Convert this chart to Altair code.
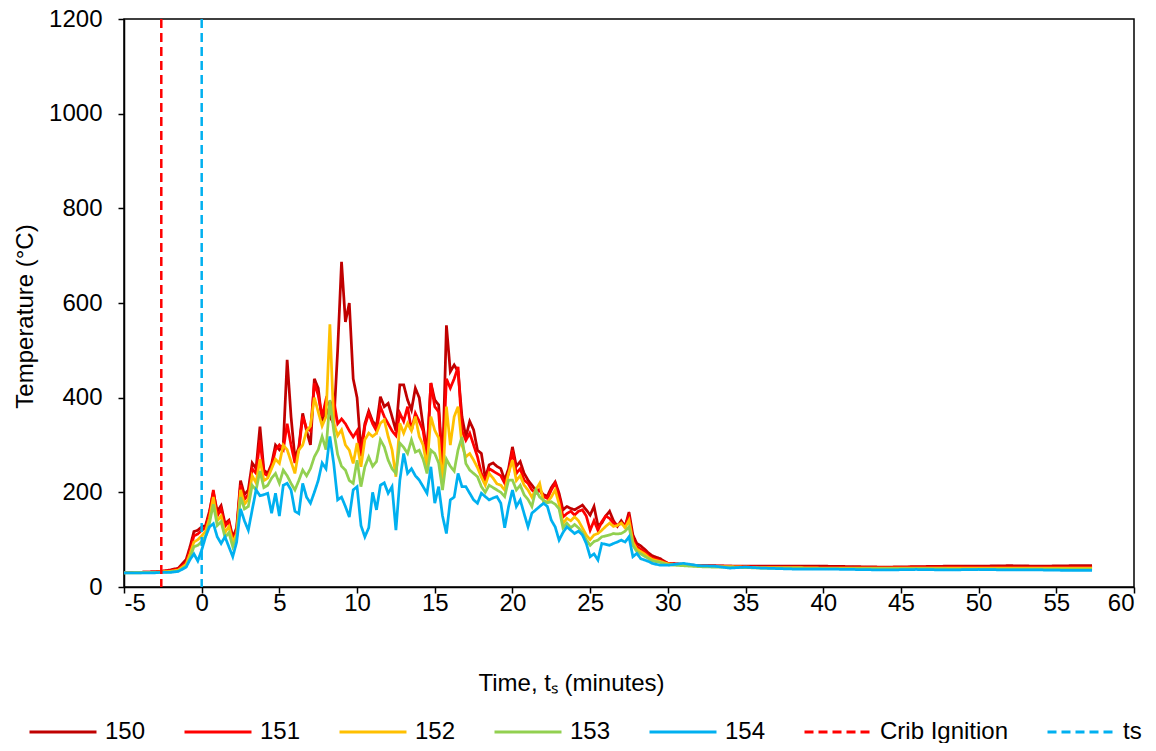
import altair as alt
import pandas as pd

# ---- time grid (minutes) ----
T_PRE = [-5.0, -4.0, -3.0, -2.6, -2.0, -1.5]
T_MID = [-1.0 + 0.25 * i for i in range(120)]
T_POST = [29.0, 29.5, 30.0, 31.0, 32.0, 33.0, 34.0, 35.0, 36.0, 38.0,
          40.0, 42.0, 44.0, 46.0, 48.0, 50.0, 52.0, 54.0, 56.0, 57.3]
TIME = T_PRE + T_MID + T_POST

# ---- temperatures (deg C) ----
S150 = [31, 31, 32, 33, 36, 40,
        58, 85, 117, 120,
        127, 130, 160, 200,
        160, 172, 134, 141,
        105, 125, 225, 195,
        205, 262, 250, 339,
        247, 240, 260, 300,
        290, 300, 480, 360,
        272, 295, 367, 330,
        300, 440, 420, 350,
        377, 360, 345, 500,
        687, 560, 600, 440,
        400, 289, 345, 372,
        350, 340, 402, 381,
        388, 360, 330, 427,
        427, 395, 374, 420,
        400, 340, 283, 431,
        395, 385, 254, 553,
        455, 469, 455, 360,
        317, 350, 332, 289,
        282, 230, 258, 262,
        255, 250, 226, 250,
        296, 255, 265, 240,
        226, 215, 205, 205,
        195, 192, 210, 222,
        198, 163, 170, 166,
        163, 168, 173, 163,
        152, 170, 130, 135,
        150, 160, 140, 128,
        140, 128, 158, 110,
        92, 87, 80, 72,
        66, 60, 50, 48, 45, 45, 44, 44, 44, 44, 44, 43, 42, 43, 44, 44, 45, 44, 45, 45]

S151 = [31, 31, 32, 33, 35, 38,
        52, 78, 108, 112,
        120, 125, 155, 205,
        150, 165, 128, 138,
        100, 120, 215, 185,
        195, 250, 240, 310,
        240, 235, 255, 290,
        300, 290, 345, 300,
        262, 290, 360, 335,
        330, 430, 405, 360,
        396, 380, 395, 345,
        355, 345, 330, 317,
        330, 276, 340, 367,
        345, 330, 381, 360,
        345, 330, 320, 367,
        350, 381, 330, 367,
        350, 330, 276, 431,
        381, 370, 250, 440,
        420, 440, 465, 330,
        310, 325, 300, 275,
        240, 225, 250, 245,
        240, 235, 219, 240,
        289, 240, 250, 226,
        219, 205, 198, 205,
        191, 187, 205, 219,
        191, 148, 155, 160,
        152, 160, 163, 150,
        120, 140, 120, 138,
        150, 145, 135, 130,
        135, 130, 150, 100,
        85, 80, 74, 66,
        61, 56, 50, 47, 45, 44, 44, 43, 42, 42, 41, 41, 41, 42, 42, 42, 42, 42, 42, 42]

S152 = [30, 31, 31, 32, 33, 36,
        48, 70, 95, 100,
        108, 118, 145, 190,
        140, 150, 115, 128,
        95, 112, 205, 175,
        185, 235, 220, 270,
        225, 230, 250, 270,
        261, 300, 290, 265,
        240, 289, 300, 330,
        340, 400, 370, 340,
        360, 555, 346, 320,
        332, 300, 289, 261,
        304, 254, 311, 325,
        318, 325, 346, 353,
        318, 290, 233, 346,
        325, 346, 330, 360,
        318, 300, 254, 360,
        331, 315, 212, 381,
        300, 360, 381, 300,
        275, 282, 268, 252,
        232, 215, 240, 230,
        218, 215, 205, 240,
        268, 225, 235, 215,
        205, 190, 205, 219,
        180, 180, 190, 205,
        175, 134, 145, 140,
        148, 140, 125, 110,
        100, 110, 113, 120,
        128, 135, 128, 130,
        135, 125, 141, 95,
        80, 75, 70, 63,
        58, 54, 49, 46, 44, 43, 43, 42, 41, 41, 40, 40, 40, 40, 40, 40, 40, 40, 40, 40]

S153 = [30, 30, 31, 31, 32, 34,
        44, 62, 85, 88,
        96, 108, 135, 175,
        130, 138, 105, 115,
        85, 105, 190, 165,
        170, 215, 205, 245,
        210, 215, 230, 240,
        219, 247, 235, 219,
        205, 225, 247, 235,
        250, 275, 290, 318,
        290, 395, 330, 280,
        255, 247, 225, 219,
        268, 212, 254, 275,
        255, 265, 311, 296,
        268, 250, 240, 304,
        295, 282, 311, 285,
        289, 270, 240, 289,
        282, 262, 205, 270,
        255, 245, 290, 317,
        261, 247, 240, 233,
        212, 200, 215, 210,
        205, 200, 191, 226,
        226, 205, 215, 195,
        185, 170, 205, 190,
        183, 178, 180, 175,
        165, 125, 135, 125,
        132, 125, 115, 100,
        88, 96, 99, 106,
        108, 110, 113, 112,
        113, 118, 127, 88,
        75, 70, 65, 60,
        55, 52, 47, 45, 43, 42, 42, 41, 40, 40, 39, 39, 39, 39, 38, 38, 38, 38, 38, 38]

S154 = [30, 30, 30, 31, 31, 33,
        42, 58, 70, 55,
        78, 106, 127, 134,
        106, 92, 106, 85,
        64, 95, 165, 140,
        120, 163, 205, 193,
        195, 198, 156, 198,
        150, 215, 219, 205,
        160, 155, 219, 190,
        177, 200, 225, 262,
        250, 318, 260, 184,
        190, 170, 148, 205,
        212, 130, 106, 125,
        200, 163, 215, 220,
        198, 212, 120, 225,
        282, 240, 250, 235,
        226, 212, 198, 254,
        177, 212, 150, 113,
        184, 190, 240, 212,
        212, 198, 184, 177,
        198, 191, 184, 188,
        191, 177, 125, 170,
        205, 170, 184, 155,
        127, 156, 163, 170,
        177, 170, 141, 127,
        99, 115, 127, 120,
        113, 118, 110, 92,
        64, 70, 57, 92,
        90, 88, 92, 95,
        99, 95, 106, 64,
        71, 60, 57, 54,
        50, 46, 46, 50, 45, 44, 40, 42, 40, 38, 38, 37, 36, 37, 36, 37, 36, 36, 35, 35]

SERIES = ["150", "151", "152", "153", "154"]
SERIES_COLORS = ["#C00000", "#FF0000", "#FFC000", "#92D050", "#00B0F0"]
EVENTS = ["Crib Ignition", "ts"]
EVENT_TIMES = [-2.6, 0.0]
EVENT_COLORS = ["#FF0000", "#00B0F0"]
X_TICKS = [-5, 0, 5, 10, 15, 20, 25, 30, 35, 40, 45, 50, 55, 60]
Y_TICKS = [0, 200, 400, 600, 800, 1000, 1200]

rows = []
for name, vals in zip(SERIES, [S150, S151, S152, S153, S154]):
    assert len(vals) == len(TIME), (name, len(vals), len(TIME))
    for t, v in zip(TIME, vals):
        rows.append({"t": t, "T": v, "series": name})
df = pd.DataFrame(rows)
ev = pd.DataFrame({"t": EVENT_TIMES, "series": EVENTS})

FONT = "Liberation Sans"
FS = 24
DOMAIN = SERIES + EVENTS
color_scale = alt.Scale(domain=DOMAIN, range=SERIES_COLORS + EVENT_COLORS)
dash_scale = alt.Scale(domain=DOMAIN, range=[[1, 0]] * 5 + [[9, 5], [9, 5]])

legend = alt.Legend(
    title=None, orient="none", legendX=-96, legendY=678,
    direction="horizontal", columns=7, symbolType="stroke",
    symbolSize=4489, symbolStrokeWidth=3, labelFontSize=FS, labelFont=FONT,
    labelColor="black", columnPadding=32, labelOffset=7, padding=0,
)

x_enc = alt.X("t:Q", scale=alt.Scale(domain=[-5, 60], nice=False, zero=False),
              axis=alt.Axis(values=X_TICKS, labelExpr="'' + datum.value",
                            labelPadding=-2,
                            title="Time, tₛ (minutes)",
                            titleX=447, titleY=96, titleBaseline="middle",
                            titleAnchor="start", titleAlign="center"))
y_enc = alt.Y("T:Q", scale=alt.Scale(domain=[0, 1200], nice=False),
              axis=alt.Axis(values=Y_TICKS, labelExpr="'' + datum.value",
                            title="Temperature (°C)",
                            titleX=-99, titleY=297, titleAngle=-90,
                            titleBaseline="middle", titleAlign="center",
                            labelPadding=16))

color_enc = alt.Color("series:N", scale=color_scale, legend=legend)
dash_enc = alt.StrokeDash("series:N", scale=dash_scale, legend=legend)

lines = alt.Chart(df).mark_line(strokeWidth=2.75).encode(
    x=x_enc, y=y_enc, color=color_enc, strokeDash=dash_enc,
    order=alt.Order("t:Q"))
rules = alt.Chart(ev).mark_rule(strokeWidth=2.5).encode(
    x=alt.X("t:Q"), color=color_enc, strokeDash=dash_enc)

chart = alt.layer(lines, rules).properties(
    width=1010, height=568,
    autosize=alt.AutoSizeParams(type="none"),
    padding={"left": 116, "top": 11, "right": 14, "bottom": 156},
    background="white",
).configure_view(
    stroke="black", strokeWidth=1.5
).configure_axis(
    grid=False, domainColor="black", domainWidth=1.5,
    tickColor="black", tickWidth=1.5, tickSize=6,
    labelColor="black", labelFont=FONT, labelFontSize=FS,
    titleColor="black", titleFont=FONT, titleFontSize=FS,
    titleFontWeight="normal",
)

chart.save("out.html", embed_options={"renderer": "svg", "actions": False})
